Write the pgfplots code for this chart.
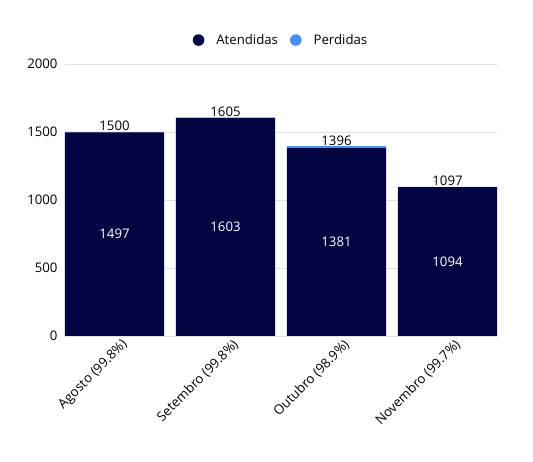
\documentclass[border=0pt]{standalone}
\usepackage{fontspec}
\setmainfont{Open Sans}
\usepackage{pgfplots}
\pgfplotsset{compat=1.18}
\definecolor{navy}{HTML}{020542}
\definecolor{lblue}{HTML}{4590F0}
\definecolor{gridc}{HTML}{E2E2E2}
\newcommand{\fs}{\fontsize{13.2}{15}\selectfont}
\begin{document}
\begin{tikzpicture}
\begin{axis}[
  scale only axis, width=432pt, height=272pt,
  at={(0,0)}, anchor=south west,
  ybar stacked, bar width=0.892,
  xmin=-0.446, xmax=3.446, ymin=0, ymax=2000,
  ytick={0,500,1000,1500,2000},
  xtick={0,1,2,3},
  xticklabels={Agosto (99.8\%),Setembro (99.8\%),Outubro (98.9\%),Novembro (99.7\%)},
  x tick label style={rotate=45, anchor=north east, font=\fs, inner sep=1pt, xshift=4pt, yshift=-5pt},
  y tick label style={font=\fs, xshift=-4pt},
  /pgf/number format/assume math mode=true,
  /pgf/number format/1000 sep={},
  major tick length=0pt,
  ymajorgrids, grid style={gridc, line width=0.8pt},
  axis line style={draw=none},
  legend columns=2,
  legend style={at={(0.5,1.088)}, anchor=center, draw=none, fill=none,
    font=\fs, column sep=10pt},
  legend image code/.code={\fill[#1] (0.15cm,0cm) circle (5.8pt);},
]
\addplot[fill=navy, draw=none] coordinates {(0,1497) (1,1603) (2,1381) (3,1094)};
\addlegendentry{Atendidas}
\addplot[fill=lblue, draw=none,
  nodes near coords, point meta=explicit symbolic,
  every node near coord/.append style={anchor=south, text=black, inner sep=1.5pt, font=\fs}]
  coordinates {(0,3)[1500] (1,2)[1605] (2,15)[1396] (3,3)[1097]};
\addlegendentry{Perdidas}
\end{axis}
\begin{axis}[
  scale only axis, width=432pt, height=272pt,
  at={(0,0)}, anchor=south west, hide axis,
  xmin=-0.446, xmax=3.446, ymin=0, ymax=2000,
]
\addplot[only marks, mark=none, nodes near coords, point meta=explicit symbolic,
  every node near coord/.append style={anchor=center, text=white, font=\fs}]
  coordinates {(0,748.5)[1497] (1,801.5)[1603] (2,690.5)[1381] (3,547)[1094]};
\end{axis}
\path[use as bounding box] (-65pt,-126pt) rectangle (468pt,336pt);
\end{tikzpicture}
\end{document}
